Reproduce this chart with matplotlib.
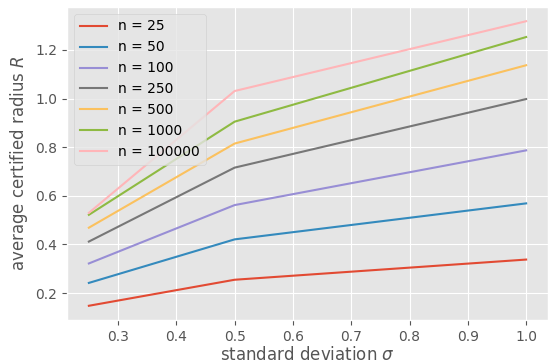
import matplotlib
matplotlib.use('Agg')
import matplotlib.pyplot as plt

plt.style.use('ggplot')

# noise levels
sigmas = [0.25, 0.5, 1.0]

# average certified radius per sample count n
labels = ['n = 25', 'n = 50', 'n = 100', 'n = 250', 'n = 500', 'n = 1000', 'n = 100000']
r_25 = [0.148, 0.255, 0.338]
r_50 = [0.242, 0.421, 0.569]
r_100 = [0.322, 0.562, 0.787]
r_250 = [0.412, 0.716, 0.998]
r_500 = [0.469, 0.815, 1.137]
r_1000 = [0.522, 0.905, 1.253]
r_100000 = [0.530, 1.031, 1.318]

series = [r_25, r_50, r_100, r_250, r_500, r_1000, r_100000]

fig = plt.figure(figsize=(5.48, 3.64), dpi=100)
ax = fig.add_axes([67 / 548, 44 / 364, 481 / 548, 313 / 364])
for lab, r in zip(labels, series):
    ax.plot(sigmas, r, label=lab)

ax.set_xlabel(r'standard deviation $\sigma$', labelpad=2)
ax.set_ylabel(r'average certified radius $R$')
ax.legend(loc='upper left')
fig.savefig('out.png', dpi=100)
